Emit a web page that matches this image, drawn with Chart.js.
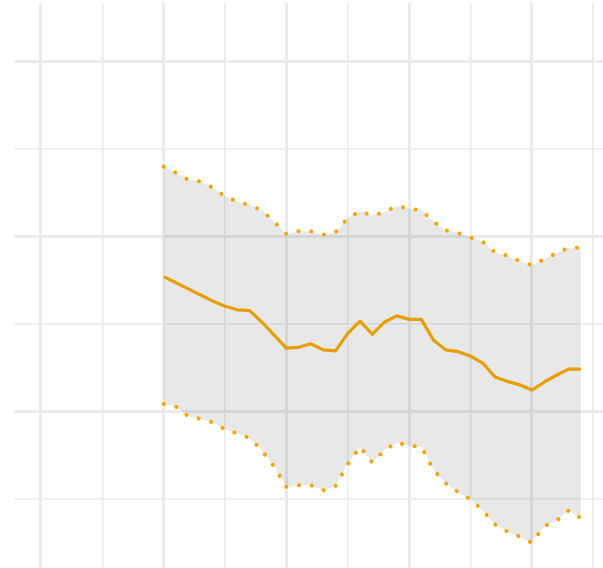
<!DOCTYPE html>
<html>
<head>
<meta charset="utf-8">
<script src="https://cdn.jsdelivr.net/npm/chart.js@4"></script>
<style>
html,body{margin:0;padding:0;background:#fff;}
#wrap{width:603px;height:568px;}
</style>
</head>
<body>
<div id="wrap"><canvas id="c" width="603" height="568"></canvas></div>
<script>
// Data
const years = [1990,1991,1992,1993,1994,1995,1996,1997,1998,1999,2000,2001,2002,2003,2004,2005,2006,2007,2008,2009,2010,2011,2012,2013,2014,2015,2016,2017,2018,2019,2020,2021,2022,2023,2024];
const meanValues = [1.54,1.47,1.40,1.33,1.26,1.20,1.16,1.15,1.02,0.87,0.72,0.73,0.77,0.70,0.69,0.89,1.03,0.88,1.02,1.09,1.05,1.05,0.81,0.70,0.68,0.63,0.55,0.39,0.34,0.30,0.24,0.33,0.41,0.48,0.48];
const upperValues = [2.80,2.73,2.65,2.63,2.56,2.46,2.40,2.36,2.30,2.17,2.03,2.06,2.06,2.02,2.05,2.21,2.29,2.24,2.28,2.35,2.32,2.30,2.17,2.07,2.04,1.99,1.94,1.82,1.78,1.72,1.67,1.74,1.81,1.87,1.87];
const lowerValues = [0.08,0.05,-0.06,-0.09,-0.13,-0.21,-0.26,-0.31,-0.45,-0.64,-0.87,-0.85,-0.85,-0.91,-0.86,-0.61,-0.41,-0.59,-0.45,-0.36,-0.40,-0.41,-0.68,-0.83,-0.93,-1.01,-1.14,-1.30,-1.38,-1.44,-1.51,-1.32,-1.26,-1.14,-1.23];
const xGridValues = [1980,1985,1990,1995,2000,2005,2010,2015,2020,2025];
const yGridValues = [-1,0,1,2,3,4];

const orange = '#E69F00';
const dotOrange = '#F7A400';
const gridColor = '#ebebeb';

const toPts = (vals) => years.map((x, i) => ({x: x, y: vals[i]}));

new Chart(document.getElementById('c'), {
  type: 'line',
  data: {
    datasets: [
      {
        data: toPts(upperValues),
        borderColor: dotOrange,
        borderWidth: 4,
        borderDash: [0.1, 12.8],
        borderCapStyle: 'round',
        pointRadius: 0,
        tension: 0,
        backgroundColor: 'rgba(0,0,0,0.09)',
        fill: '+1',
        order: 2
      },
      {
        data: toPts(lowerValues),
        borderColor: dotOrange,
        borderWidth: 4,
        borderDash: [0.1, 12.8],
        borderCapStyle: 'round',
        pointRadius: 0,
        tension: 0,
        fill: false,
        order: 1
      },
      {
        data: toPts(meanValues),
        borderColor: orange,
        borderWidth: 3.2,
        borderJoinStyle: 'round',
        pointRadius: 0,
        tension: 0,
        fill: false,
        order: 0
      }
    ]
  },
  options: {
    responsive: false,
    animation: false,
    devicePixelRatio: 1,
    layout: {padding: {left: 14, top: 3, right: 0, bottom: 0}},
    plugins: {legend: {display: false}, tooltip: {enabled: false}},
    scales: {
      x: {
        type: 'linear',
        min: 1977.8,
        max: 2025.8,
        afterBuildTicks: (s) => { s.ticks = xGridValues.map(v => ({value: v})); },
        ticks: {display: false},
        border: {display: false},
        grid: {
          color: gridColor,
          drawTicks: false,
          lineWidth: (ctx) => (ctx.tick && ctx.tick.value % 10 === 0) ? 3 : 1.5
        }
      },
      y: {
        type: 'linear',
        min: -1.799,
        max: 4.676,
        afterBuildTicks: (s) => { s.ticks = yGridValues.map(v => ({value: v})); },
        ticks: {display: false},
        border: {display: false},
        grid: {
          color: gridColor,
          drawTicks: false,
          lineWidth: (ctx) => (ctx.tick && ctx.tick.value % 2 === 0) ? 3 : 1.5
        }
      }
    }
  }
});
</script>
</body>
</html>
